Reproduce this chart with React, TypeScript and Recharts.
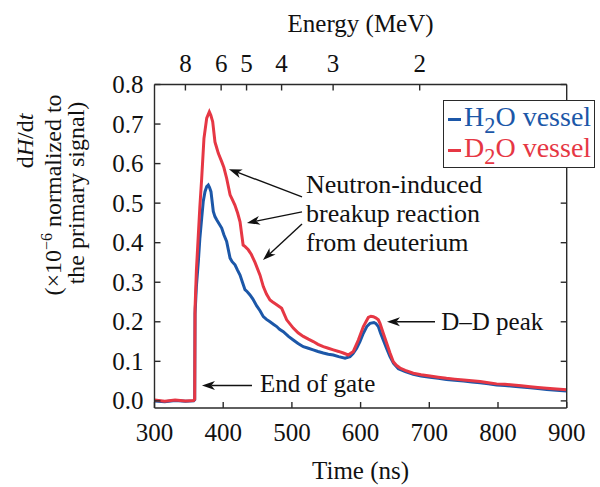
import React from 'react';
import {
  LineChart,
  Line,
  XAxis,
  YAxis,
  Legend,
  ReferenceLine,
  ReferenceDot,
  Label
} from 'recharts';

const FONT = '"Liberation Serif", "Times New Roman", serif';
const BLUE = '#1c57a8';
const RED = '#e63744';
const AXIS = '#2a2a2a';
const INK = '#111';

// axes
const timeTicks = [300, 400, 500, 600, 700, 800, 900];
const valueTicks = [0, 0.1, 0.2, 0.3, 0.4, 0.5, 0.6, 0.7, 0.8];
const energyLabels = ['8', '6', '5', '4', '3', '2'];
const energyTickTimes = [345, 397, 434, 485, 560, 686];

// H2O vessel (blue)
const h2oTime = [
  300, 315, 330, 345, 357, 358.5, 359, 361, 363.8, 366, 368.7, 371, 373.5, 376, 378.3, 380,
  382.2, 385.6, 388, 390.5, 394, 397.8, 401, 405, 410, 413, 417.2, 421, 424.5, 428, 431.7,
  435, 439, 443, 448.8, 453.6, 458.4, 463, 468.1, 473, 477.9, 482, 487.5, 495, 502, 509,
  516.6, 524, 531, 538, 545.7, 553, 560.3, 568, 577.3, 584.6, 589, 594.3, 599, 604, 609,
  613.7, 619.5, 622, 625.8, 629, 633, 638, 642.8, 648, 655, 665, 676.7, 688, 701, 713,
  725, 737, 750, 762, 774, 786, 798, 810, 822, 834, 847, 858, 871, 885, 900
];
const h2oSignal = [
  0.0, -0.002, 0.001, -0.001, 0.0, 0.003, 0.22, 0.29, 0.352, 0.41, 0.462, 0.505, 0.529, 0.542, 0.546, 0.54,
  0.529, 0.479, 0.466, 0.458, 0.448, 0.437, 0.42, 0.403, 0.361, 0.352, 0.344, 0.33, 0.318, 0.3, 0.281,
  0.276, 0.268, 0.258, 0.24, 0.228, 0.213, 0.206, 0.2, 0.194, 0.188, 0.181, 0.175, 0.163, 0.154, 0.145,
  0.137, 0.133, 0.129, 0.125, 0.121, 0.118, 0.116, 0.112, 0.108, 0.112, 0.12, 0.133, 0.15, 0.171, 0.188,
  0.196, 0.198, 0.196, 0.188, 0.172, 0.154, 0.132, 0.112, 0.095, 0.081, 0.074, 0.067, 0.063, 0.06, 0.057,
  0.054, 0.052, 0.05, 0.048, 0.046, 0.043, 0.04, 0.039, 0.037, 0.035, 0.033, 0.031, 0.029, 0.027, 0.025
];

// D2O vessel (red)
const d2oTime = [
  300, 315, 330, 345, 357, 358.5, 359, 361, 363.8, 366, 368.7, 372, 376, 379.8, 382, 384.7,
  388, 390.5, 392.9, 397.8, 401, 405, 410, 413, 417, 421, 424.5, 429, 432, 436.5, 441,
  446.3, 453.6, 458.4, 463, 468.1, 472, 477.9, 485.1, 492.4, 502, 509, 516.6, 524, 531.1,
  538, 545.7, 553, 560.3, 568, 574.8, 582, 589.4, 596.7, 604, 611.2, 615, 618.5, 622, 625.8,
  628.2, 633, 638, 642.8, 647.6, 652, 657.4, 665, 676.7, 688, 701, 713, 725, 737, 750,
  762, 774, 786, 798, 810, 822, 834, 847, 858, 871, 885, 900
];
const d2oSignal = [
  0.002, -0.001, 0.002, 0.0, 0.001, 0.004, 0.234, 0.33, 0.42, 0.49, 0.563, 0.664, 0.715, 0.731, 0.722, 0.706,
  0.655, 0.64, 0.626, 0.605, 0.59, 0.563, 0.521, 0.51, 0.495, 0.475, 0.453, 0.394, 0.39, 0.382, 0.37,
  0.35, 0.318, 0.289, 0.27, 0.255, 0.25, 0.243, 0.234, 0.205, 0.184, 0.172, 0.163, 0.156, 0.15,
  0.143, 0.137, 0.133, 0.129, 0.125, 0.121, 0.116, 0.125, 0.154, 0.188, 0.211, 0.214, 0.213, 0.21, 0.205,
  0.196, 0.171, 0.146, 0.121, 0.099, 0.09, 0.083, 0.077, 0.07, 0.066, 0.063, 0.06, 0.057, 0.055, 0.053,
  0.051, 0.049, 0.046, 0.043, 0.042, 0.04, 0.038, 0.036, 0.034, 0.032, 0.03, 0.028
];

const h2oData = h2oTime.map((t, i) => ({ t, v: h2oSignal[i] }));
const d2oData = d2oTime.map((t, i) => ({ t, v: d2oSignal[i] }));

// annotations, in data units (time, signal)
const breakupArrows = [
  [[514.7, 0.516], [408.4, 0.586]],
  [[514.7, 0.478], [434.6, 0.45]],
  [[514.7, 0.447], [457.9, 0.356]]
];
const ddArrow = [[708.3, 0.2], [638.4, 0.2]];
const gateArrow = [[441.9, 0.039], [369.1, 0.039]];
const breakupLines = ['Neutron-induced', 'breakup reaction', 'from deuterium'];
const breakupLineY = [0.546, 0.473, 0.4];
const breakupTextX = 520.5;

const Arrow = (props: any) => {
  const { x1, y1, x2, y2 } = props;
  const a = Math.atan2(y2 - y1, x2 - x1);
  const c = Math.cos(a), s = Math.sin(a);
  const len = 13, half = 4.5;
  const bx = x2 - len * c, by = y2 - len * s;
  const nx = x2 - len * 0.72 * c, ny = y2 - len * 0.72 * s;
  return (
    <g>
      <line x1={x1} y1={y1} x2={nx} y2={ny} stroke={INK} strokeWidth={1.4} />
      <polygon
        points={`${x2},${y2} ${bx - s * half},${by + c * half} ${nx},${ny} ${bx + s * half},${by - c * half}`}
        fill={INK}
      />
    </g>
  );
};

const textAt = (value: string, size = 25) => (p: any) => (
  <text x={p.cx} y={p.cy} dominantBaseline="central" fontFamily={FONT} fontSize={size} fill={INK}>
    {value}
  </text>
);

// ticks point into the plot; the axes get tickSize 0 so p.x / p.y sit on the axis line
const tickLineStyle = { stroke: AXIS, strokeWidth: 1.4 };
const tickText = { fontFamily: FONT, fontSize: 25, fill: INK };

const BottomTick = (p: any) => (
  <g>
    <line x1={p.x} y1={p.y} x2={p.x} y2={p.y - 6} {...tickLineStyle} />
    <text x={p.x} y={p.y + 33} textAnchor="middle" {...tickText}>{p.payload.value}</text>
  </g>
);

const TopTick = (p: any) => (
  <g>
    <line x1={p.x} y1={p.y} x2={p.x} y2={p.y + 6} {...tickLineStyle} />
    <text x={p.x} y={p.y - 13} textAnchor="middle" {...tickText}>{energyLabels[p.index]}</text>
  </g>
);

const LeftTick = (p: any) => (
  <g>
    <line x1={p.x} y1={p.y} x2={p.x + 6} y2={p.y} {...tickLineStyle} />
    <text x={p.x - 11} y={p.y + 8.5} textAnchor="end" {...tickText}>{Number(p.payload.value).toFixed(1)}</text>
  </g>
);

const RightTick = (p: any) => (
  <line x1={p.x} y1={p.y} x2={p.x - 6} y2={p.y} {...tickLineStyle} />
);

const YTitle = () => (
  <g fontFamily={FONT} fontSize={24} fill={INK} textAnchor="middle">
    <text x={33} y={141} transform="rotate(-90, 33, 141)">
      d<tspan fontStyle="italic">H</tspan>/d<tspan fontStyle="italic">t</tspan>
    </text>
    <text x={61} y={195} transform="rotate(-90, 61, 195)">
      (×10<tspan dy={-9} fontSize={16}>−6</tspan>
      <tspan dy={9}> normalized to</tspan>
    </text>
    <text x={84} y={193} transform="rotate(-90, 84, 193)">
      the primary signal)
    </text>
  </g>
);

const Sub2 = () => (
  <span style={{ fontSize: '0.8em', position: 'relative', top: '0.3em' }}>2</span>
);

const renderLegend = () => (
  <div
    style={{
      border: `1.5px solid ${AXIS}`,
      background: '#fff',
      padding: '1px 3px 3px 4px',
      fontFamily: FONT,
      fontSize: 28,
      lineHeight: '29px',
      whiteSpace: 'nowrap'
    }}
  >
    <div style={{ color: BLUE }}>
      <span style={{ display: 'inline-block', width: 13, height: 3, background: BLUE, verticalAlign: 'middle', marginRight: 3 }} />
      H<Sub2 />O vessel
    </div>
    <div style={{ color: RED }}>
      <span style={{ display: 'inline-block', width: 13, height: 3, background: RED, verticalAlign: 'middle', marginRight: 3 }} />
      D<Sub2 />O vessel
    </div>
  </div>
);

export default function App() {
  return (
    <div style={{ position: 'absolute', left: 0, top: 0, width: 600, height: 487, background: '#fff' }}>
      <LineChart width={600} height={487} margin={{ top: 0, right: 23.3, bottom: 0, left: 0 }}>
        <XAxis
          xAxisId="bottom"
          dataKey="t"
          type="number"
          domain={[300, 900]}
          ticks={timeTicks}
          interval={0}
          height={79}
          stroke={AXIS}
          strokeWidth={1.4}
          tickLine={false}
          tickSize={0}
          tickMargin={0}
          tick={<BottomTick />}
          allowDataOverflow
        >
          <Label value="Time (ns)" position="insideBottom" offset={8} fontFamily={FONT} fontSize={25} fill={INK} />
        </XAxis>
        <XAxis
          xAxisId="top"
          orientation="top"
          dataKey="t"
          type="number"
          domain={[300, 900]}
          ticks={energyTickTimes}
          interval={0}
          height={84.5}
          stroke={AXIS}
          strokeWidth={1.4}
          tickLine={false}
          tickSize={0}
          tickMargin={0}
          tick={<TopTick />}
          allowDataOverflow
        >
          <Label value="Energy (MeV)" position="insideTop" offset={14} fontFamily={FONT} fontSize={25} fill={INK} />
        </XAxis>
        <YAxis
          yAxisId="left"
          type="number"
          domain={[-0.018, 0.8]}
          ticks={valueTicks}
          interval={0}
          width={154.5}
          stroke={AXIS}
          strokeWidth={1.4}
          tickLine={false}
          tickSize={0}
          tickMargin={0}
          tick={<LeftTick />}
          allowDataOverflow
        >
          <Label content={<YTitle />} />
        </YAxis>
        <YAxis
          yAxisId="right"
          orientation="right"
          type="number"
          domain={[-0.018, 0.8]}
          ticks={valueTicks}
          interval={0}
          width={10}
          stroke={AXIS}
          strokeWidth={1.4}
          tickLine={false}
          tickSize={0}
          tickMargin={0}
          tick={<RightTick />}
          allowDataOverflow
        />
        <Legend
          layout="vertical"
          align="center"
          verticalAlign="middle"
          content={renderLegend}
          wrapperStyle={{ position: 'absolute', left: 443, top: 100, width: 'auto', height: 'auto' }}
        />
        {/* invisible copy so the top and right axes have data to draw with */}
        <Line
          xAxisId="top"
          yAxisId="right"
          data={d2oData}
          dataKey="v"
          stroke="none"
          dot={false}
          activeDot={false}
          legendType="none"
          isAnimationActive={false}
        />
        <Line
          xAxisId="bottom"
          yAxisId="left"
          data={h2oData}
          dataKey="v"
          name="H2O vessel"
          type="linear"
          stroke={BLUE}
          strokeWidth={3}
          dot={false}
          isAnimationActive={false}
        />
        <Line
          xAxisId="bottom"
          yAxisId="left"
          data={d2oData}
          dataKey="v"
          name="D2O vessel"
          type="linear"
          stroke={RED}
          strokeWidth={3}
          dot={false}
          isAnimationActive={false}
        />
        {[...breakupArrows, ddArrow, gateArrow].map((seg, i) => (
          <ReferenceLine
            key={`arrow-${i}`}
            xAxisId="bottom"
            yAxisId="left"
            segment={[{ x: seg[0][0], y: seg[0][1] }, { x: seg[1][0], y: seg[1][1] }]}
            shape={Arrow}
            ifOverflow="visible"
          />
        ))}
        {breakupLines.map((line, i) => (
          <ReferenceDot
            key={`bt-${i}`}
            xAxisId="bottom"
            yAxisId="left"
            x={breakupTextX}
            y={breakupLineY[i]}
            r={0}
            shape={textAt(line, 26)}
            ifOverflow="visible"
          />
        ))}
        <ReferenceDot xAxisId="bottom" yAxisId="left" x={717.4} y={0.2} r={0} shape={textAt('D–D peak')} ifOverflow="visible" />
        <ReferenceDot xAxisId="bottom" yAxisId="left" x={453.6} y={0.043} r={0} shape={textAt('End of gate')} ifOverflow="visible" />
      </LineChart>
    </div>
  );
}
